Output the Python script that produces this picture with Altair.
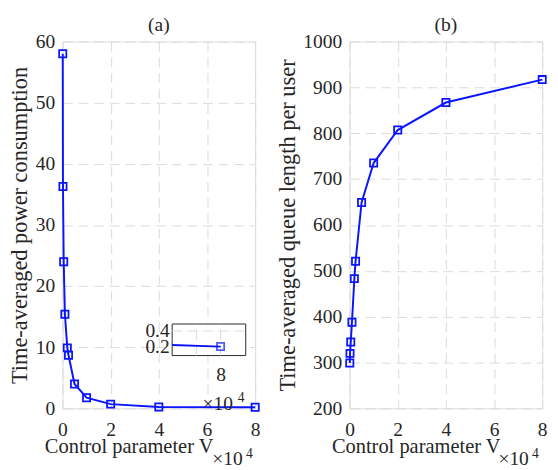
import altair as alt
import pandas as pd

# ---- data ----
V = [0.01, 0.02, 0.05, 0.1, 0.2, 0.25, 0.5, 1, 2, 4, 8]          # x 10^4
power = [58.0, 36.3, 24.0, 15.4, 9.9, 8.7, 4.0, 1.75, 0.7, 0.22, 0.2]
queue = [299, 320, 345, 388, 483, 521, 649, 735, 807, 867, 917]
x_ticks = [0, 2, 4, 6, 8]
power_ticks = [0, 10, 20, 30, 40, 50, 60]
queue_ticks = [200, 300, 400, 500, 600, 700, 800, 900, 1000]
inset_x_domain = [7.9, 8.052]
inset_y_domain = [0.085, 0.49]
inset_x_grid = [7.95, 8.0]
inset_y_grid = [0.4]
inset_x_labels = [8]
inset_y_labels = [0.2, 0.4]
panel_titles = ["(a)", "(b)"]

# ---- styling ----
BLUE = "#0a14ff"
DARK = "#262626"
GRID = "#dadada"
FONT = "Liberation Serif"
FS = 20
W, H = 198, 377
inset_x_range = [112.7, 188.3]
inset_y_range = [322.7, 290.3]

df = pd.DataFrame({"V": V, "power": power, "queue": queue})


def axis(**kw):
    base = dict(labelFont=FONT, labelFontSize=FS, labelColor=DARK,
                titleFont=FONT, titleFontSize=FS, titleFontWeight="normal",
                titleColor=DARK, grid=True, gridColor=GRID, gridDash=[10, 6],
                gridWidth=1, domain=False, ticks=False, labelOverlap=False,
                labelFlush=False)
    base.update(kw)
    return alt.Axis(**base)


point_def = alt.OverlayMarkDef(shape="square", filled=False, size=55,
                               strokeWidth=1.8, color=BLUE)


def main_layer(field, ticks, title):
    return alt.Chart(df).mark_line(color=BLUE, strokeWidth=2, point=point_def).encode(
        x=alt.X("V:Q", scale=alt.Scale(domain=[0, 8], nice=False),
                axis=axis(values=x_ticks, title="Control parameter V", format="d",
                          labelPadding=12, titleX=68, titleY=45, titleFontSize=21,
                          titleAlign="center", titleBaseline="alphabetic")),
        y=alt.Y(f"{field}:Q", scale=alt.Scale(domain=[ticks[0], ticks[-1]], nice=False, zero=False),
                axis=axis(values=ticks, title=title, labelPadding=8, titlePadding=4,
                          titleFontSize=23, format="d")),
    )


def text_at(s, xpos, ypos, size=FS, align="left"):
    return alt.Chart(pd.DataFrame({"t": [s]})).mark_text(
        font=FONT, fontSize=size, color=DARK, align=align, baseline="alphabetic"
    ).encode(text="t:N", x=alt.value(xpos), y=alt.value(ypos))


def exponent(xpos, ypos, supx, supy):
    return [text_at("×10", xpos, ypos), text_at("4", supx, supy, size=14)]


def panel_title(s):
    return text_at(s, W / 2, -11, align="center")


# ---- inset (left panel) ----
ixs = alt.Scale(domain=inset_x_domain, range=inset_x_range, clamp=True, nice=False, zero=False)
iys = alt.Scale(domain=inset_y_domain, range=inset_y_range, clamp=True, nice=False, zero=False)

box = alt.Chart(pd.DataFrame({"x0": [inset_x_domain[0]], "x1": [inset_x_domain[1]],
                              "y0": [inset_y_domain[0]], "y1": [inset_y_domain[1]]})).mark_rect(
    fill="white", stroke=DARK, strokeWidth=1
).encode(
    x=alt.X("x0:Q", scale=ixs, axis=None), x2="x1:Q",
    y=alt.Y("y0:Q", scale=iys, axis=None), y2="y1:Q",
)

vgrid = alt.Chart(pd.DataFrame({"gx": inset_x_grid, "y0": inset_y_domain[0],
                                "y1": inset_y_domain[1]})).mark_rule(
    color=GRID, strokeDash=[10, 6], strokeWidth=1
).encode(
    x=alt.X("gx:Q", scale=ixs, axis=None),
    y=alt.Y("y0:Q", scale=iys, axis=None), y2="y1:Q",
)

hgrid = alt.Chart(pd.DataFrame({"gy": inset_y_grid, "x0": inset_x_domain[0],
                                "x1": inset_x_domain[1]})).mark_rule(
    color=GRID, strokeDash=[10, 6], strokeWidth=1
).encode(
    y=alt.Y("gy:Q", scale=iys, axis=None),
    x=alt.X("x0:Q", scale=ixs, axis=None), x2="x1:Q",
)

prev_v = max(v for v in V if v < inset_x_domain[0])
inset_line = alt.Chart(df).transform_filter(alt.datum.V >= prev_v).mark_line(
    color=BLUE, strokeWidth=2
).encode(
    x=alt.X("V:Q", scale=ixs,
            axis=axis(orient="bottom", offset=-(H - inset_y_range[0]), values=inset_x_labels,
                      grid=False, labelPadding=10, title=None, format="d")),
    y=alt.Y("power:Q", scale=iys,
            axis=axis(orient="left", offset=-inset_x_range[0], values=inset_y_labels,
                      grid=False, labelPadding=3, title=None, format=".1f")),
)

inset_pts = alt.Chart(df).transform_filter(alt.datum.V >= inset_x_domain[0]).mark_point(
    shape="square", filled=False, size=55, strokeWidth=1.8, color=BLUE
).encode(
    x=alt.X("V:Q", scale=ixs, axis=None),
    y=alt.Y("power:Q", scale=iys, axis=None),
)

left = alt.layer(
    main_layer("power", power_ticks, "Time-averaged power consumption"),
    box, vgrid, hgrid, inset_line, inset_pts,
    *exponent(144, 379, 180, 370),
    *exponent(154, 435, 188.5, 428),
    panel_title(panel_titles[0]),
).resolve_scale(x="independent", y="independent").resolve_axis(
    x="independent", y="independent"
).properties(width=W, height=H)

right = alt.layer(
    main_layer("queue", queue_ticks, "Time-averaged queue length per user"),
    *exponent(153, 435, 187.5, 428),
    panel_title(panel_titles[1]),
).resolve_scale(x="independent", y="independent").properties(width=W, height=H)

chart = alt.hconcat(left, right, spacing=13).properties(
    padding={"left": 0, "top": 0, "right": 0, "bottom": 0}
).configure_view(stroke=DARK, strokeWidth=1).configure(background="white")

chart.save("out.html", embed_options={"renderer": "svg", "actions": False})
